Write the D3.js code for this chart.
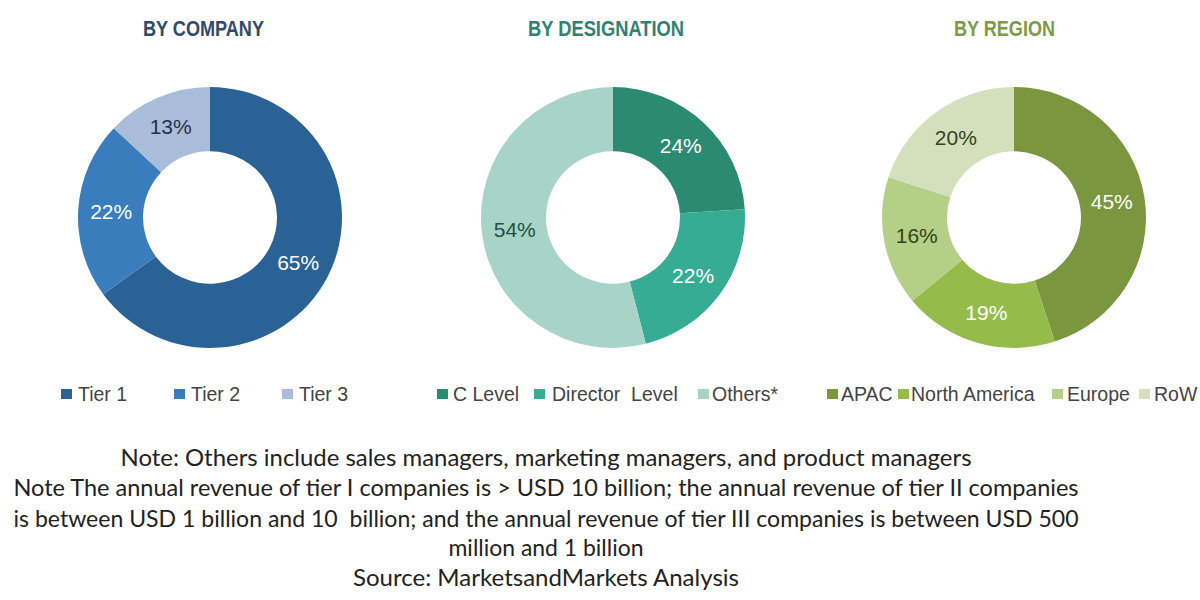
<!DOCTYPE html>
<html>
<head>
<meta charset="utf-8">
<script src="https://cdn.jsdelivr.net/npm/d3@7"></script>
<style>
	html, body { margin: 0; padding: 0; background: #fff; }
	svg { display: block; }
</style>
</head>
<body>
<div id="chart"></div>
<script>
var companyLabels = ['Tier 1', 'Tier 2', 'Tier 3'];
var companyValues = [65, 22, 13];
var designationLabels = ['C Level', 'Director  Level', 'Others*'];
var designationValues = [24, 22, 54];
var regionLabels = ['APAC', 'North America', 'Europe', 'RoW'];
var regionValues = [45, 19, 16, 20];
var noteLines = [
	'Note: Others include sales managers, marketing managers, and product managers',
	'Note The annual revenue of tier I companies is > USD 10 billion; the annual revenue of tier II companies',
	'is between USD 1 billion and 10  billion; and the annual revenue of tier III companies is between USD 500',
	'million and 1 billion',
	'Source: MarketsandMarkets Analysis'
];

var width = 1200, height = 600;
var outerR = 132, innerR = 67, labelR = 99;
var noteY = [466, 496, 527, 556, 586];
var noteW = [851, 1065, 1065, 195, 386];

var panels = [
	{title: 'BY COMPANY', titleColor: '#2f4a6b', cx: 210, titleX: 203.5, titleW: 121, labels: companyLabels, values: companyValues,
		colors: ['#2a6296', '#3a7dbd', '#a9bcd9'], textColors: ['#fff', '#fff', '#1f3350'],
		swatchX: [61, 174, 282], textX: [78, 191, 299]},
	{title: 'BY DESIGNATION', titleColor: '#2f8273', cx: 613, titleX: 606, titleW: 156, labels: designationLabels, values: designationValues,
		colors: ['#2b8a72', '#35ac93', '#a8d3c7'], textColors: ['#fff', '#fff', '#1e4f45'],
		swatchX: [437, 534, 698], textX: [453, 552, 712]},
	{title: 'BY REGION', titleColor: '#7d9a45', cx: 1014, titleX: 1004.5, titleW: 101, labels: regionLabels, values: regionValues,
		colors: ['#7a973f', '#95bb4b', '#b4cf86', '#d3e0bb'], textColors: ['#fff', '#fff', '#33431c', '#33431c'],
		swatchX: [827, 898, 1052, 1139], textX: [841, 911, 1067, 1154]}
];

var svg = d3.select('#chart').append('svg')
	.attr('width', width)
	.attr('height', height);

var pie = d3.pie().sort(null);
var arc = d3.arc().innerRadius(innerR).outerRadius(outerR);
var labelArc = d3.arc().innerRadius(labelR).outerRadius(labelR);

panels.forEach(function(p) {
	svg.append('text')
		.attr('x', p.titleX)
		.attr('y', 36)
		.attr('text-anchor', 'middle')
		.attr('textLength', p.titleW)
		.attr('lengthAdjust', 'spacingAndGlyphs')
		.attr('font-family', '"Liberation Sans", Arial, sans-serif')
		.attr('font-weight', 'bold')
		.attr('font-size', 22)
		.attr('fill', p.titleColor)
		.text(p.title);

	var g = svg.append('g').attr('transform', 'translate(' + p.cx + ',217.5)');
	var slices = pie(p.values);

	// the source picture is a little squashed vertically
	g.selectAll('path')
		.data(slices)
		.enter().append('path')
		.attr('d', arc)
		.attr('transform', 'scale(1,0.988)')
		.style('fill', function(d, i) { return p.colors[i]; });

	g.selectAll('text')
		.data(slices)
		.enter().append('text')
		.attr('transform', function(d) { return 'translate(' + labelArc.centroid(d) + ')'; })
		.attr('text-anchor', 'middle')
		.attr('dy', '0.35em')
		.attr('font-family', '"Liberation Sans", Arial, sans-serif')
		.attr('font-size', 21)
		.attr('fill', function(d, i) { return p.textColors[i]; })
		.text(function(d) { return d.value + '%'; });

	var legend = svg.selectAll(null)
		.data(p.labels)
		.enter().append('g');

	legend.append('rect')
		.attr('x', function(d, i) { return p.swatchX[i]; })
		.attr('y', 389)
		.attr('width', 11)
		.attr('height', 10)
		.style('fill', function(d, i) { return p.colors[i]; });

	legend.append('text')
		.attr('x', function(d, i) { return p.textX[i]; })
		.attr('y', 401)
		.attr('font-family', '"Liberation Sans", Arial, sans-serif')
		.attr('font-size', 19.5)
		.attr('fill', '#444')
		.style('white-space', 'pre')
		.text(function(d) { return d; });
});

svg.selectAll('.note')
	.data(noteLines)
	.enter().append('text')
	.attr('class', 'note')
	.attr('x', 546)
	.attr('y', function(d, i) { return noteY[i]; })
	.attr('text-anchor', 'middle')
	.attr('textLength', function(d, i) { return noteW[i]; })
	.attr('lengthAdjust', 'spacingAndGlyphs')
	.attr('font-family', 'Lato, sans-serif')
	.attr('font-size', 23.6)
	.attr('fill', '#222')
	.style('white-space', 'pre')
	.text(function(d) { return d; });
</script>
</body>
</html>
